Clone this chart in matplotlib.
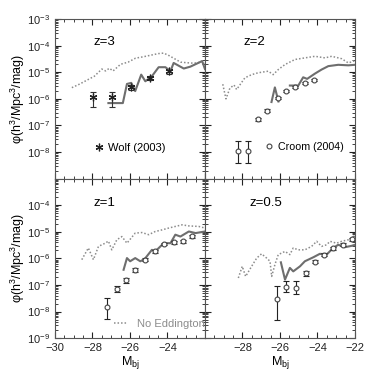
import numpy as np
import matplotlib
matplotlib.use('Agg')
import matplotlib.pyplot as plt
from matplotlib.lines import Line2D
from matplotlib.ticker import MultipleLocator, LogLocator, NullFormatter

plt.rcParams['font.family'] = ['Liberation Sans', 'DejaVu Sans'];
plt.rcParams['mathtext.fontset'] = 'custom';
plt.rcParams['mathtext.rm'] = 'Liberation Sans';

# values, log10(phi) vs M_bj
# z=3
mag_dot_z3 = [-29.1, -28.7, -28.3, -27.9, -27.5, -27.3, -27.1, -26.9, -26.5, -26.1, -25.7,
              -25.3, -24.9, -24.5, -24.2, -23.9, -23.6, -23.3, -23.0, -22.6, -22.3, -22.1, -22.0];
log_dot_z3 = [-5.58, -5.45, -5.30, -5.15, -4.88, -4.95, -4.85, -4.95, -4.70, -4.62, -4.47,
              -4.42, -4.36, -4.30, -4.28, -4.38, -4.50, -4.62, -4.64, -4.66, -4.63, -4.58, -4.85];
mag_sol_z3 = [-27.15, -26.38, -26.16, -25.93, -25.72, -25.40, -25.18, -24.83, -24.47, -24.11,
              -23.84, -23.67, -23.13, -22.78, -22.33, -22.15, -22.0];
log_sol_z3 = [-6.16, -6.16, -5.44, -5.40, -5.71, -5.09, -5.34, -5.15, -4.81, -4.81,
              -4.96, -4.65, -4.86, -4.79, -4.64, -4.58, -4.88];
mag_wolf = [-27.95, -26.97, -25.92, -24.92, -23.94];
log_wolf = [-5.93, -5.93, -5.57, -5.22, -4.97];
elo_wolf = [0.38, 0.38, 0.10, 0.09, 0.08];
ehi_wolf = [0.20, 0.20, 0.08, 0.08, 0.07];

# z=2
mag_dot_z2 = [-29.05, -28.88, -28.67, -28.45, -28.31, -28.04, -27.87, -27.51, -27.16, -26.62,
              -26.36, -26.09, -25.73, -25.20, -24.67, -24.13, -23.60, -23.24, -22.71, -22.35, -22.09, -22.0];
log_dot_z2 = [-5.45, -6.00, -5.60, -5.48, -5.65, -5.38, -5.21, -5.09, -5.02, -4.96,
              -5.09, -4.90, -4.71, -4.52, -4.46, -4.40, -4.46, -4.40, -4.49, -4.65, -4.59, -4.55];
mag_sol_z2 = [-26.45, -26.27, -26.08, np.nan, -25.47, -25.02, -24.76, -24.55, -24.13, -23.78,
              -23.42, -22.89, -22.35, -22.0];
log_sol_z2 = [-6.12, -5.57, -6.10, np.nan, -5.50, -5.50, -5.19, -5.25, -5.05, -4.90,
              -4.77, -4.72, -4.74, -4.72];
mag_croom_z2 = [-28.22, -27.69, -27.19, -26.70, -26.12, -25.68, -25.18, -24.67, -24.17];
log_croom_z2 = [-7.95, -7.95, -6.77, -6.45, -5.97, -5.72, -5.55, -5.40, -5.30];
elo_croom_z2 = [0.46, 0.46, 0.05, 0.05, 0.05, 0.04, 0.04, 0.04, 0.04];
ehi_croom_z2 = [0.35, 0.35, 0.05, 0.05, 0.05, 0.04, 0.04, 0.04, 0.04];

# z=1
mag_dot_z1 = [-28.57, -28.22, -27.95, -27.68, -27.32, -27.15, -26.97, -26.70, -26.43, -26.16,
              -25.72, -25.36, -25.00, -24.65, -24.29, -23.93, -23.58, -23.22, -22.86, -22.33, -22.0];
log_dot_z1 = [-6.05, -5.61, -6.05, -5.55, -5.43, -5.35, -5.68, -5.30, -5.18, -5.43,
              -5.05, -5.03, -5.11, -4.99, -4.93, -4.86, -4.80, -4.74, -4.78, -4.80, -4.86];
mag_sol_z1 = [-26.34, -26.16, -25.99, -25.72, -25.45, -25.22, -24.83, -24.65, -24.20, -23.84,
              -23.58, -23.31, -22.86, -22.50, -22.0];
log_sol_z1 = [-6.43, -5.99, -6.11, -5.99, -6.11, -6.03, -5.68, -5.74, -5.43, -5.43,
              -5.11, -5.18, -4.99, -5.05, -4.99];
mag_croom_z1 = [-27.23, -26.70, -26.20, -25.72, -25.18, -24.65, -24.20, -23.67, -23.17, -22.69];
log_croom_z1 = [-7.83, -7.15, -6.83, -6.43, -6.05, -5.74, -5.46, -5.40, -5.36, -5.17];
elo_croom_z1 = [0.47, 0.12, 0.10, 0.07, 0.06, 0.05, 0.05, 0.05, 0.05, 0.05];
ehi_croom_z1 = [0.34, 0.12, 0.10, 0.07, 0.06, 0.05, 0.05, 0.05, 0.05, 0.05];

# z=0.5
mag_dot_z05 = [-28.22, -28.01, -27.83, -27.51, -27.24, -26.98, -26.71, -26.53, -26.44, -26.27,
               -26.09, -25.73, -25.47, -25.29, -25.02, -24.67, -24.31, -24.04, -23.78, -23.51,
               -23.33, -22.98, -22.71, -22.35, -22.09, -22.0];
log_dot_z05 = [-6.74, -6.30, -6.68, -6.30, -5.99, -5.83, -5.99, -6.11, -6.68, -6.24,
               -5.86, -5.74, -5.86, -5.61, -5.68, -5.68, -5.55, -5.36, -5.55, -5.49,
               -5.36, -5.43, -5.36, -5.30, -5.18, -5.15];
mag_sol_z05 = [-25.95, -25.73, -25.47, -25.29, -24.93, -24.67, -24.22, -23.87, -23.51, -23.16,
               -22.89, -22.53, -22.18, -22.0];
log_sol_z05 = [-6.15, -6.80, -6.36, -6.49, -6.30, -6.11, -5.96, -5.83, -5.86, -5.61,
               -5.49, -5.58, -5.53, -5.49];
mag_croom_z05 = [-26.18, -25.68, -25.16, -24.63, -24.13, -23.65, -23.16, -22.66, -22.18];
log_croom_z05 = [-7.54, -7.06, -7.12, -6.57, -6.12, -5.86, -5.62, -5.48, -5.29];
elo_croom_z05 = [0.77, 0.19, 0.22, 0.08, 0.05, 0.05, 0.05, 0.05, 0.05];
ehi_croom_z05 = [0.50, 0.19, 0.25, 0.08, 0.05, 0.05, 0.05, 0.05, 0.05];

panels = [
    ('z=3', mag_dot_z3, log_dot_z3, mag_sol_z3, log_sol_z3, mag_wolf, log_wolf, elo_wolf, ehi_wolf, 'wolf'),
    ('z=2', mag_dot_z2, log_dot_z2, mag_sol_z2, log_sol_z2, mag_croom_z2, log_croom_z2, elo_croom_z2, ehi_croom_z2, 'croom'),
    ('z=1', mag_dot_z1, log_dot_z1, mag_sol_z1, log_sol_z1, mag_croom_z1, log_croom_z1, elo_croom_z1, ehi_croom_z1, 'croom'),
    ('z=0.5', mag_dot_z05, log_dot_z05, mag_sol_z05, log_sol_z05, mag_croom_z05, log_croom_z05, elo_croom_z05, ehi_croom_z05, 'croom'),
];
label_pos = [(0.255, 0.855), (0.255, 0.855), (0.255, 0.845), (0.30, 0.845)];

ylab = 'φ(h$^3$/Mpc$^3$/mag)';
asterisk = (6, 2, 0);

fig, axs = plt.subplots(2, 2, figsize=(3.74, 3.74), dpi=100,
                        gridspec_kw=dict(hspace=0, wspace=0));
fig.subplots_adjust(left=0.147, right=0.949, bottom=0.096, top=0.949);

for i, ax in enumerate(axs.flat):
    name, md, ld, ms, ls_, mp, lp, elo, ehi, kind = panels[i];
    lp = np.array(lp); elo = np.array(elo); ehi = np.array(ehi);
    phi = 10**lp;
    yerr = [phi - 10**(lp - elo), 10**(lp + ehi) - phi];

    dline, = ax.plot(md, 10**np.array(ld), color='#8c8c8c', lw=1.1, ls=(0, (1, 1.3)));
    ax.plot(ms, 10**np.array(ls_), color='#6e6e6e', lw=1.5);
    if kind == 'wolf':
        ax.errorbar(mp, phi, yerr=yerr, fmt='none', ecolor='#333333', elinewidth=0.8, capsize=2.5, capthick=0.8);
        ax.plot(mp, phi, ls='none', marker=asterisk, ms=5.5, mew=0.9, color='#222222');
    else:
        ax.errorbar(mp, phi, yerr=yerr, fmt='none', ecolor='#222222', elinewidth=0.8, capsize=2.5, capthick=0.8);
        ax.plot(mp, phi, ls='none', marker='o', ms=3.5, mfc='white', mec='#444444', mew=0.8);

    ax.set_yscale('log');
    ax.set_xlim(-30, -22);
    ax.set_ylim(1e-9, 1e-3);
    ax.text(*label_pos[i], name, transform=ax.transAxes, fontsize=9.5, ha='left', va='center');

    ax.tick_params(which='both', direction='in', top=True, right=True, labelsize=8, colors='#222222');
    ax.tick_params(which='major', length=4, width=0.8);
    ax.tick_params(which='minor', length=2, width=0.6);
    for s in ax.spines.values():
        s.set_color('#555555');
        s.set_linewidth(0.8);

    row, col = divmod(i, 2);
    if row == 0:
        ax.set_yticks([1e-8, 1e-7, 1e-6, 1e-5, 1e-4, 1e-3]);
        ax.set_xticks([-30, -28, -26, -24, -22]);
        ax.set_xticklabels([]);
    else:
        ax.set_yticks([1e-9, 1e-8, 1e-7, 1e-6, 1e-5, 1e-4]);
        if col == 0:
            ax.set_xticks([-30, -28, -26, -24]);
        else:
            ax.set_xticks([-28, -26, -24, -22]);
        ax.set_xlabel('M$_{\\rm bj}$', fontsize=9, labelpad=1);
    ax.xaxis.set_minor_locator(MultipleLocator(0.5));
    ax.yaxis.set_minor_locator(LogLocator(base=10, subs=np.arange(2, 10), numticks=20));
    ax.yaxis.set_minor_formatter(NullFormatter());
    if col == 0:
        ax.set_ylabel(ylab, fontsize=9, labelpad=0);
    else:
        ax.set_yticklabels([]);

    # legends
    if i == 0:
        h = Line2D([], [], ls='none', marker=asterisk, ms=5.5, mew=0.9, color='#222222');
        ax.legend([h], ['Wolf (2003)'], loc='center left', bbox_to_anchor=(0.19, 0.19),
                  frameon=False, fontsize=8, handlelength=1.0, handletextpad=0.3);
    elif i == 1:
        h = Line2D([], [], ls='none', marker='o', ms=3.5, mfc='white', mec='#444444', mew=0.8);
        ax.legend([h], ['Croom (2004)'], loc='center left', bbox_to_anchor=(0.33, 0.2),
                  frameon=False, fontsize=7.7, handlelength=1.0, handletextpad=0.3);
    elif i == 2:
        ax.legend([dline], ['No Eddington'], loc='center left', bbox_to_anchor=(0.33, 0.09),
                  frameon=False, fontsize=8, handlelength=1.2, handletextpad=0.8,
                  labelcolor='#8c8c8c');

fig.savefig('out.png', dpi=100);
